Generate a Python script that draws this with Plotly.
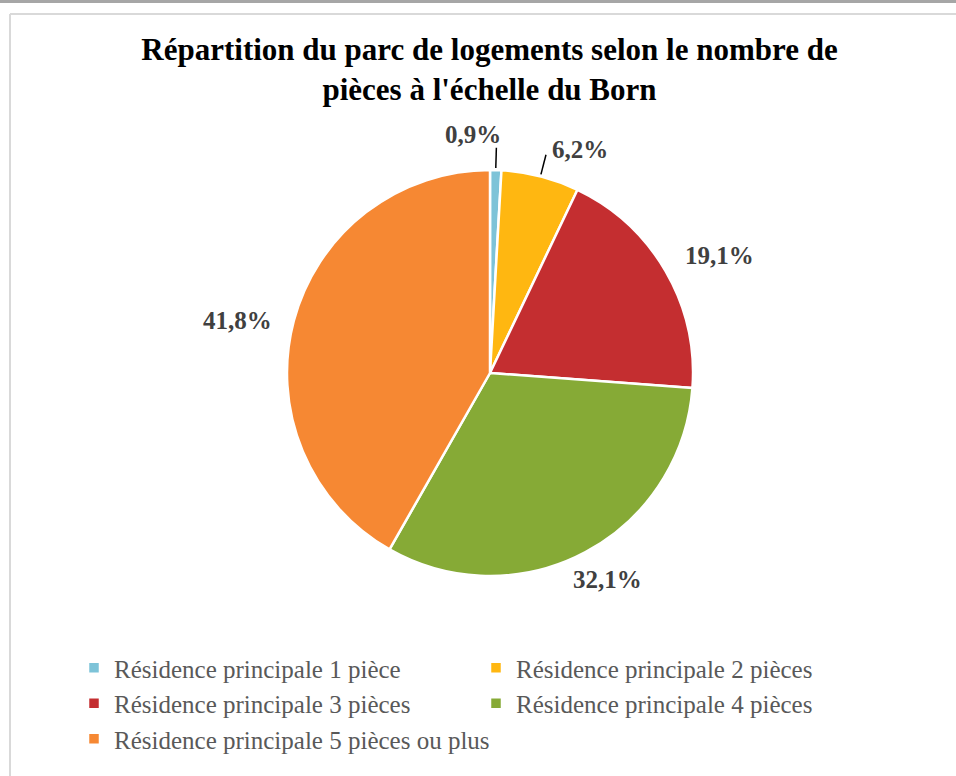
import math
import plotly.graph_objects as go

categories = [
    "Résidence principale 1 pièce",
    "Résidence principale 2 pièces",
    "Résidence principale 3 pièces",
    "Résidence principale 4 pièces",
    "Résidence principale 5 pièces ou plus",
]
values = [0.9, 6.2, 19.1, 32.1, 41.8]
labels_txt = ["0,9%", "6,2%", "19,1%", "32,1%", "41,8%"]
colors = ["#7DC3D8", "#FFB711", "#C42E30", "#86AA36", "#F68833"]

W, H = 956, 776
CX, CY, R = 490, 373, 203
SERIF = "Liberation Serif, DejaVu Serif, serif"

# label placement style (radius factor, angle shift in degrees)
label_r = [1.10, 1.10, 1.27, 1.17, 1.27]
label_shift = [0, 0, 3, -1.5, -3]
leader = [True, True, False, False, False]

fig = go.Figure()
fig.add_trace(go.Pie(
    labels=categories, values=values, sort=False, direction="clockwise",
    rotation=0, marker=dict(colors=colors, line=dict(color="white", width=2.5)),
    textinfo="none", hoverinfo="label+percent",
    domain=dict(x=[(CX - R) / W, (CX + R) / W], y=[(H - CY - R) / H, (H - CY + R) / H]),
))

annotations = []
shapes = []
total = sum(values)
cum = 0
for i, v in enumerate(values):
    mid = (cum + v / 2) / total * 360
    cum += v
    a = math.radians(mid + label_shift[i])
    px = lambda rr: (CX + rr * math.sin(a), CY - rr * math.cos(a))
    if leader[i]:
        x0, y0 = px(R * 1.01)
        x1, y1 = px(R * 1.11)
        shapes.append(dict(type="line", xref="paper", yref="paper",
                           x0=x0 / W, y0=1 - y0 / H, x1=x1 / W, y1=1 - y1 / H,
                           line=dict(color="black", width=1.5)))
        if i == 0:
            tx, ty, xanchor = x1 + 7, y1 - 13, "right"
        else:
            tx, ty, xanchor = x1 + 4, y1 - 5, "left"
    else:
        tx, ty = px(R * label_r[i])
        xanchor = "center"
    annotations.append(dict(
        x=tx / W, y=1 - ty / H, xref="paper", yref="paper", text="<b>%s</b>" % labels_txt[i],
        showarrow=False, xanchor=xanchor, yanchor="middle",
        font=dict(family=SERIF, size=25, color="#404040"),
    ))

# chart frame
shapes += [
    dict(type="line", xref="paper", yref="paper", x0=0, x1=1, y0=1 - 1.5 / H, y1=1 - 1.5 / H,
         line=dict(color="#A6A6A6", width=3)),
    dict(type="line", xref="paper", yref="paper", x0=10 / W, x1=1, y0=1 - 14 / H, y1=1 - 14 / H,
         line=dict(color="#D9D9D9", width=2)),
    dict(type="line", xref="paper", yref="paper", x0=10 / W, x1=10 / W, y0=0, y1=1 - 14 / H,
         line=dict(color="#D9D9D9", width=2)),
]

fig.update_layout(
    width=W, height=H,
    margin=dict(l=0, r=0, t=0, b=0),
    paper_bgcolor="white", plot_bgcolor="white",
    title=dict(
        text="<b>Répartition du parc de logements selon le nombre de<br>pièces à l'échelle du Born</b>",
        x=489.5 / W, xanchor="center", y=1 - 60 / H, yanchor="top",
        font=dict(family=SERIF, size=31, color="#000000"),
    ),
    legend=dict(
        orientation="h", x=74 / W, xanchor="left", y=1 - 645 / H, yanchor="top",
        entrywidth=357, entrywidthmode="pixels",
        font=dict(family=SERIF, size=25, color="#595959"),
        itemclick=False,
    ),
    annotations=annotations,
    shapes=shapes,
)

fig.write_html("out.html", config={"displayModeBar": False},
               post_script="document.body.style.margin='0px';")
